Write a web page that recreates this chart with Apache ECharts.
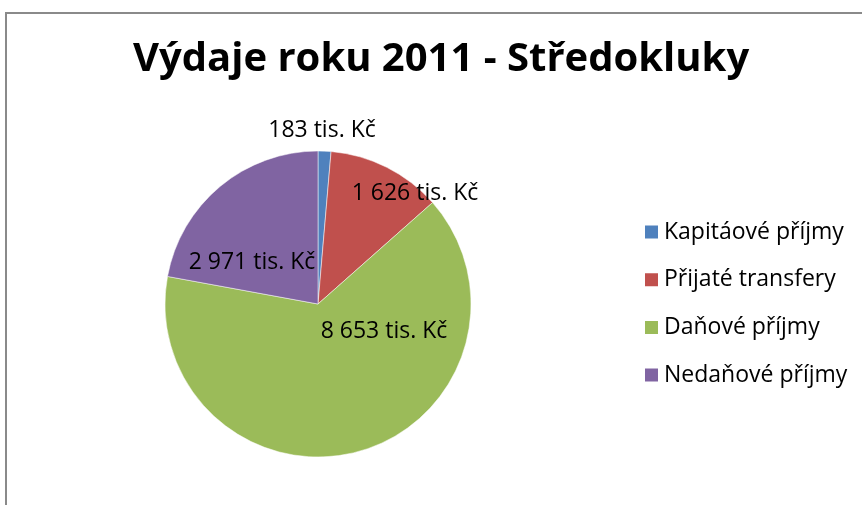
<!DOCTYPE html>
<html>
<head>
<meta http-equiv="content-type" content="text/html; charset=UTF-8">
<title>Výdaje roku 2011</title>
<script src="https://cdn.jsdelivr.net/npm/echarts@6/dist/echarts.min.js"></script>
<style>
  body { margin: 0; background: #fff; }
</style>
</head>
<body>
	<div id="main" style="width: 862px; height: 505px;"></div>
	<script type="text/javascript">

        // data
        var categories = ['Kapitáové příjmy', 'Přijaté transfery', 'Daňové příjmy', 'Nedaňové příjmy'];
        var values = [183, 1626, 8653, 2971];
        var colors = ['#4F81BD', '#C0504D', '#9BBB59', '#8064A2'];

        // label placement (offset from pie centre, px), like Excel's best fit
        var labelOffsets = [[4, -174], [97, -111], [66, 27], [-66, -42]];

        var pieCenter = [318, 304];
        var pieRadius = 153;
        var font = 'Open Sans';

        function fmt(v) {
            return String(v).replace(/\B(?=(\d{3})+(?!\d))/g, ' ') + ' tis. Kč';
        }

        var myChart = echarts.init(document.getElementById('main'));

        var option = {
            backgroundColor: '#fff',
            title: {
                text: 'Výdaje roku 2011 - Středokluky',
                left: 128,
                top: 35,
                textStyle: { fontFamily: font, fontWeight: 'bold', fontSize: 40, color: '#000' }
            },
            legend: {
                orient: 'vertical',
                left: 638,
                top: 215,
                itemWidth: 15,
                itemHeight: 15,
                itemGap: 23.7,
                icon: 'rect',
                textStyle: { fontFamily: font, fontSize: 23, color: '#000', lineHeight: 24 },
                data: categories
            },
            graphic: [{
                type: 'polyline',
                shape: { points: [[6, 505], [6, 13], [862, 13]] },
                style: { stroke: '#8a8a8a', lineWidth: 2, fill: null }
            }],
            series: [{
                type: 'pie',
                center: pieCenter,
                radius: pieRadius,
                startAngle: 90,
                clockwise: true,
                silent: true,
                itemStyle: { borderColor: '#fff', borderWidth: 0.5 },
                label: {
                    position: 'inside',
                    fontFamily: font,
                    fontSize: 23,
                    color: '#000',
                    formatter: function (p) { return fmt(p.value); }
                },
                labelLine: { show: false },
                labelLayout: function (p) {
                    var o = labelOffsets[p.dataIndex];
                    return { x: pieCenter[0] + o[0], y: pieCenter[1] + o[1], align: 'center', verticalAlign: 'middle' };
                },
                data: categories.map(function (c, i) {
                    return { name: c, value: values[i], itemStyle: { color: colors[i] } };
                })
            }]
        };
        myChart.setOption(option);
    </script>
</body>
</html>
